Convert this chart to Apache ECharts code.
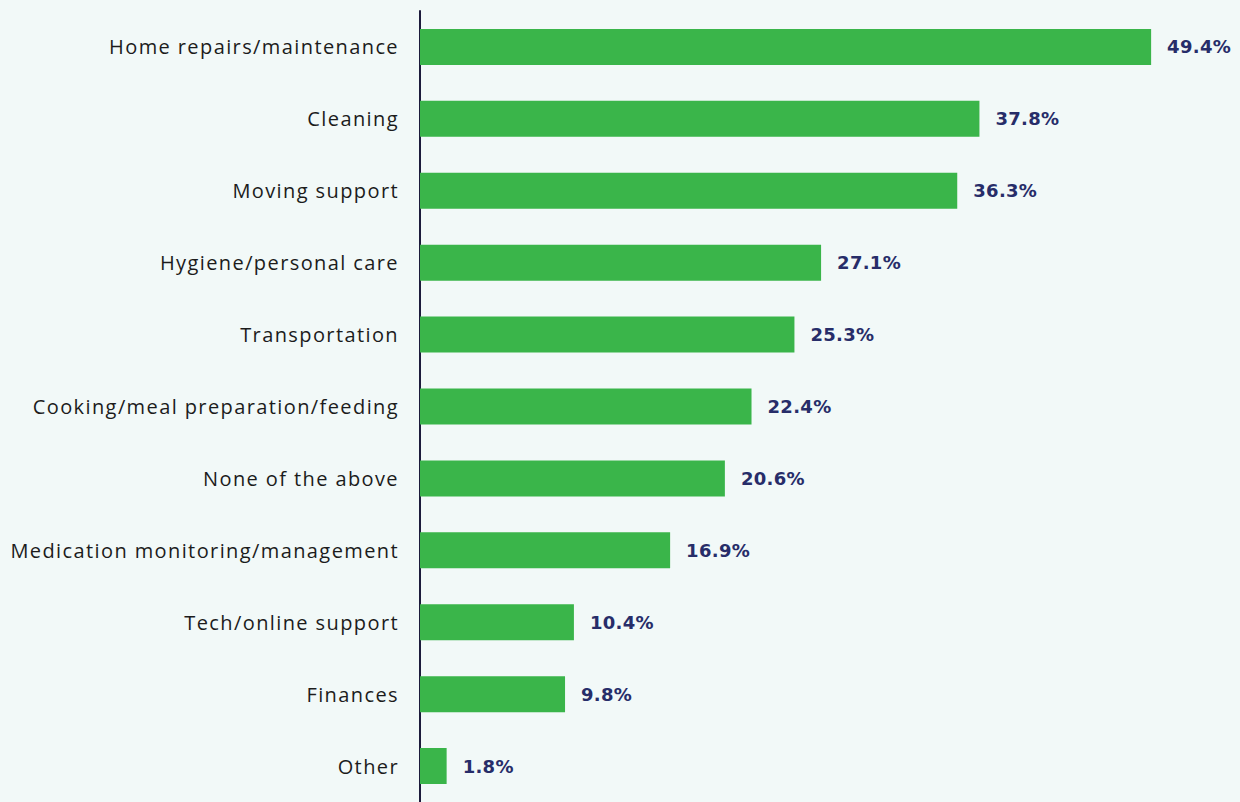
<!DOCTYPE html>
<html>
<head>
<meta charset="utf-8">
<script src="https://cdn.jsdelivr.net/npm/echarts@6/dist/echarts.min.js"></script>
<style>
  html, body { margin: 0; padding: 0; background: #f2f9f8; }
  #chart { width: 1240px; height: 802px; }
  /* category names are set with a little tracking */
  #chart svg text[text-anchor="end"] { letter-spacing: 1.4px; }
  #chart svg text[text-anchor="start"] { letter-spacing: 0.3px; }
</style>
</head>
<body>
<div id="chart"></div>
<script>
// Share of respondents by type of help (percent), top to bottom
const categories = [
  'Home repairs/maintenance',
  'Cleaning',
  'Moving support',
  'Hygiene/personal care',
  'Transportation',
  'Cooking/meal preparation/feeding',
  'None of the above',
  'Medication monitoring/management',
  'Tech/online support',
  'Finances',
  'Other'
];
const values = [49.4, 37.8, 36.3, 27.1, 25.3, 22.4, 20.6, 16.9, 10.4, 9.8, 1.8];

const chart = echarts.init(document.getElementById('chart'), null, { renderer: 'svg' });
chart.setOption({
  backgroundColor: '#f2f9f8',
  animation: false,
  grid: { left: 420, right: 80, top: 11, bottom: -1, containLabel: false },
  xAxis: {
    type: 'value',
    min: 0,
    max: 50,
    show: false
  },
  yAxis: {
    type: 'category',
    data: categories,
    inverse: true,
    axisLine: { show: true, lineStyle: { color: '#1d1b3c', width: 2 } },
    axisTick: { show: false },
    axisLabel: {
      margin: 21,
      color: '#1c1c1c',
      fontFamily: 'Open Sans',
      fontSize: 20
    }
  },
  series: [{
    type: 'bar',
    data: values,
    barWidth: 36,
    itemStyle: { color: '#3ab54a' },
    label: {
      show: true,
      position: 'right',
      distance: 16,
      color: '#272d69',
      fontFamily: 'DejaVu Sans',
      fontWeight: 'bold',
      fontSize: 18,
      formatter: p => p.value.toFixed(1) + '%'
    }
  }]
});
</script>
</body>
</html>
